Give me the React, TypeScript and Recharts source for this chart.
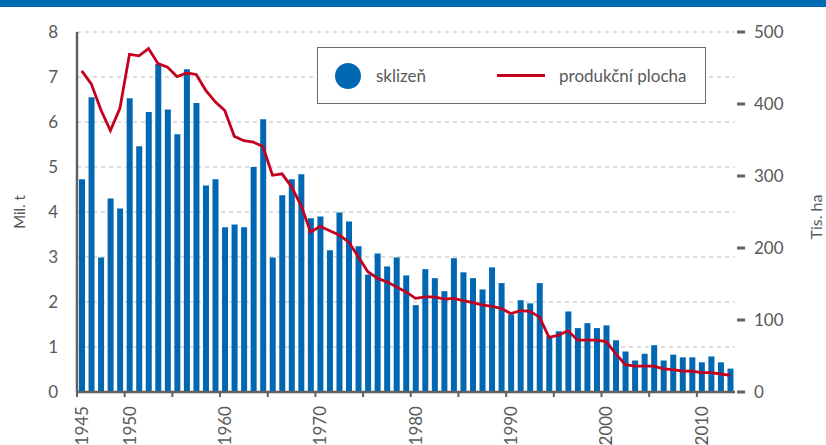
import { Bar, CartesianGrid, ComposedChart, Legend, Line, XAxis, YAxis } from 'recharts'

const YEARS = [
  1945, 1946, 1947, 1948, 1949, 1950, 1951, 1952, 1953, 1954,
  1955, 1956, 1957, 1958, 1959, 1960, 1961, 1962, 1963, 1964,
  1965, 1966, 1967, 1968, 1969, 1970, 1971, 1972, 1973, 1974,
  1975, 1976, 1977, 1978, 1979, 1980, 1981, 1982, 1983, 1984,
  1985, 1986, 1987, 1988, 1989, 1990, 1991, 1992, 1993, 1994,
  1995, 1996, 1997, 1998, 1999, 2000, 2001, 2002, 2003, 2004,
  2005, 2006, 2007, 2008, 2009, 2010, 2011, 2012, 2013,
]

// sklizeň, mil. t
const SKLIZEN = [
  4.73, 6.55, 2.99, 4.3, 4.08, 6.53, 5.46, 6.22, 7.29, 6.28,
  5.73, 7.17, 6.42, 4.59, 4.73, 3.66, 3.72, 3.66, 5.0, 6.06,
  2.99, 4.37, 4.73, 4.84, 3.86, 3.9, 3.15, 3.99, 3.79, 3.24,
  2.61, 3.08, 2.79, 2.99, 2.59, 1.93, 2.73, 2.53, 2.24, 2.97,
  2.66, 2.53, 2.28, 2.77, 2.42, 1.72, 2.04, 1.97, 2.42, 1.24,
  1.35, 1.79, 1.42, 1.53, 1.42, 1.48, 1.15, 0.9, 0.7, 0.85,
  1.04, 0.7, 0.83, 0.77, 0.77, 0.66, 0.79, 0.66, 0.52,
]

// produkční plocha, tis. ha
const PLOCHA = [
  446, 428, 392, 363, 394, 469, 467, 477, 456, 451,
  438, 443, 441, 419, 403, 391, 355, 349, 347, 341,
  301, 303, 285, 259, 222, 230, 224, 218, 208, 188,
  167, 158, 153, 146, 139, 130, 132, 132, 129, 130,
  127, 124, 121, 119, 116, 109, 113, 112, 104, 76,
  79, 85, 72, 72, 72, 70, 53, 38, 36, 36,
  36, 32, 31, 29, 29, 27, 27, 25, 23,
]

const LEFT_TICKS = [0, 1, 2, 3, 4, 5, 6, 7, 8]
const RIGHT_TICKS = [0, 100, 200, 300, 400, 500]
const LABEL_YEARS = [1945, 1950, 1960, 1970, 1980, 1990, 2000, 2010]

const BLUE = '#0068b3'
const RED = '#c4001e'
const TEXT = '#58595b'
const AXIS = '#5f6062'

const data = YEARS.map((year, i) => ({ year, sklizen: SKLIZEN[i], plocha: PLOCHA[i] }))

function YearTick(props: any) {
  const { x, y, payload } = props
  const year = payload.value as number
  const half = payload.offset ?? 658 / YEARS.length / 2
  if (year % 5 !== 0) return <g />
  return (
    <g>
      <line x1={x - half} x2={x - half} y1={y} y2={y + 5} stroke={AXIS} strokeWidth={2} />
      {LABEL_YEARS.includes(year) && (
        <text
          x={x}
          y={y + 14}
          transform={`rotate(-90 ${x} ${y + 14})`}
          textAnchor="end"
          dy="0.36em"
          fill={TEXT}
          fontSize={17}
        >
          {year}
        </text>
      )}
    </g>
  )
}

function RightTick(props: any) {
  const { x, y, payload } = props
  return (
    <g>
      <rect x={x + 2} y={y - 1.5} width={8} height={3} fill={AXIS} />
      <text x={x + 19} y={y} dy="0.36em" fill={TEXT} fontSize={17}>
        {payload.value}
      </text>
    </g>
  )
}

function LegendBox() {
  return (
    <div
      style={{
        boxSizing: 'border-box',
        width: 389,
        height: 57,
        border: '1.5px solid #6b6b6b',
        background: '#fff',
        display: 'flex',
        alignItems: 'center',
        color: TEXT,
        fontSize: 17,
      }}
    >
      <span
        style={{ marginLeft: 17, width: 26, height: 26, borderRadius: '50%', background: BLUE }}
      />
      <span style={{ marginLeft: 15 }}>sklizeň</span>
      <span style={{ marginLeft: 71, width: 48, height: 3, background: RED }} />
      <span style={{ marginLeft: 14 }}>produkční plocha</span>
    </div>
  )
}

export default function App() {
  return (
    <div
      style={{
        position: 'absolute',
        left: 0,
        top: 0,
        width: 826,
        height: 445,
        overflow: 'hidden',
        background: '#fff',
        fontFamily: 'Lato, sans-serif',
      }}
    >
      <div style={{ position: 'absolute', left: 0, top: 0, width: 826, height: 7, background: '#0069b4' }} />
      <ComposedChart width={826} height={445} data={data} margin={{ top: 32, right: 0, bottom: 0, left: 0 }}>
        <CartesianGrid
          yAxisId="left"
          vertical={false}
          stroke="#d2d2d2"
          strokeDasharray="4 4"
          strokeWidth={1.5}
        />
        <XAxis
          dataKey="year"
          height={53}
          interval={0}
          tickSize={0}
          tickMargin={0}
          tickLine={false}
          axisLine={{ stroke: AXIS, strokeWidth: 2.5 }}
          tick={<YearTick />}
        />
        <YAxis
          yAxisId="left"
          width={77}
          domain={[0, 8]}
          ticks={LEFT_TICKS}
          tickLine={false}
          tickMargin={13}
          axisLine={{ stroke: AXIS, strokeWidth: 2.5 }}
          tick={{ fill: TEXT, fontSize: 17 }}
          label={{
            content: ({ viewBox }: any) => {
              const cx = viewBox.x + 20
              const cy = viewBox.y + viewBox.height / 2
              return (
                <text x={cx} y={cy} transform={`rotate(-90 ${cx} ${cy})`} textAnchor="middle" dy="0.36em" fill={TEXT} fontSize={15}>
                  Mil. t
                </text>
              )
            },
          }}
        />
        <YAxis
          yAxisId="right"
          orientation="right"
          width={91}
          domain={[0, 500]}
          ticks={RIGHT_TICKS}
          axisLine={false}
          tickLine={false}
          tickSize={0}
          tickMargin={0}
          tick={<RightTick />}
          label={{
            content: ({ viewBox }: any) => {
              const cx = viewBox.x + 81
              const cy = viewBox.y + viewBox.height / 2 + 5
              return (
                <text x={cx} y={cy} transform={`rotate(-90 ${cx} ${cy})`} textAnchor="middle" dy="0.36em" fill={TEXT} fontSize={16}>
                  Tis. ha
                </text>
              )
            },
          }}
        />
        <Legend
          layout="horizontal"
          verticalAlign="middle"
          align="center"
          content={<LegendBox />}
          wrapperStyle={{ position: 'absolute', left: 317, top: 47, width: 389, height: 57 }}
        />
        <Bar yAxisId="left" dataKey="sklizen" fill={BLUE} barSize={6} isAnimationActive={false} />
        <Line
          yAxisId="right"
          dataKey="plocha"
          type="linear"
          stroke={RED}
          strokeWidth={2.8}
          dot={false}
          activeDot={false}
          isAnimationActive={false}
        />
      </ComposedChart>
    </div>
  )
}
